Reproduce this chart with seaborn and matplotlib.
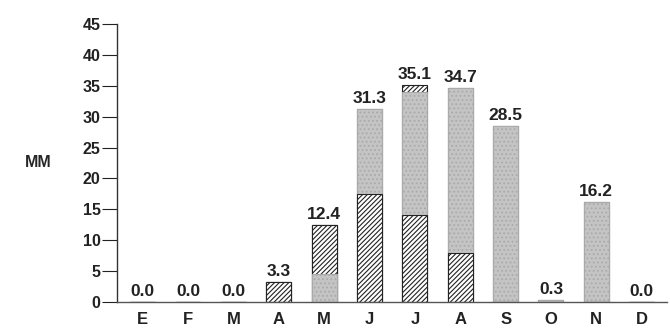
import numpy as np
import pandas as pd
import matplotlib
matplotlib.use('Agg')
import matplotlib.pyplot as plt
import seaborn as sns

months = ['E', 'F', 'M', 'A', 'M', 'J', 'J', 'A', 'S', 'O', 'N', 'D']
totals = [0.0, 0.0, 0.0, 3.3, 12.4, 31.3, 35.1, 34.7, 28.5, 0.3, 16.2, 0.0]
# segments from the bottom up: gray, hatched, gray, hatched
gray_low = [0, 0, 0, 0, 4.5, 0, 0, 0, 0, 0, 0, 0]
hatch_mid = [0, 0, 0, 3.3, 7.9, 17.5, 14.0, 8.0, 0, 0, 0, 0]
gray_up = [0, 0, 0, 0, 0, 13.8, 20.0, 26.7, 28.5, 0.3, 16.2, 0]
hatch_top = [0, 0, 0, 0, 0, 0, 1.1, 0, 0, 0, 0, 0]

sns.set_style('white')
plt.rcParams['font.family'] = ['Liberation Sans', 'DejaVu Sans']
plt.rcParams['hatch.linewidth'] = 0.8

pos = np.arange(len(months))
c1 = np.array(gray_low)
c2 = c1 + np.array(hatch_mid)
c3 = c2 + np.array(gray_up)
c4 = c3 + np.array(hatch_top)

fig = plt.figure(figsize=(6.7, 3.35), dpi=100)
ax = fig.add_axes([0.175, 0.0985, 0.82, 0.83])

layers = [(c4, 'hatch'), (c3, 'gray'), (c2, 'hatch'), (c1, 'gray')]
for vals, kind in layers:
    df = pd.DataFrame({'pos': pos, 'mm': vals})
    if kind == 'hatch':
        sns.barplot(data=df, x='pos', y='mm', ax=ax, native_scale=True, width=0.55,
                    color='white', edgecolor='#222222', linewidth=0.8, hatch='///////',
                    saturation=1)
    else:
        sns.barplot(data=df, x='pos', y='mm', ax=ax, native_scale=True, width=0.55,
                    color='#c4c4c4', edgecolor='#aaaaaa', linewidth=0.8, hatch='....',
                    saturation=1)

for p, v in zip(pos, totals):
    ax.text(p, v + 0.5, f'{v:.1f}', ha='center', va='bottom', fontsize=12.5,
            fontweight='bold', color='#222222')

ax.set_xlim(-0.56, 11.55)
ax.set_ylim(0, 45)
ax.set_yticks(range(0, 46, 5))
ax.set_xticks(pos)
ax.set_xticklabels(months)
ax.set_xlabel('')
ax.set_ylabel('MM', rotation=0, fontsize=11.5, fontweight='bold', labelpad=32, va='center')
ax.tick_params(axis='y', left=True, direction='out', length=11, width=0.8,
               labelsize=11.5, colors='#222222', pad=1)
ax.tick_params(axis='x', bottom=False, length=0, labelsize=12, pad=7, colors='#222222')
for lab in ax.get_xticklabels() + ax.get_yticklabels():
    lab.set_fontweight('bold')
sns.despine(ax=ax)
ax.spines['left'].set_color('#333333')
ax.spines['bottom'].set_color('#555555')
ax.spines['left'].set_linewidth(1.0)
ax.spines['bottom'].set_linewidth(1.0)

fig.savefig('out.png', dpi=100)
